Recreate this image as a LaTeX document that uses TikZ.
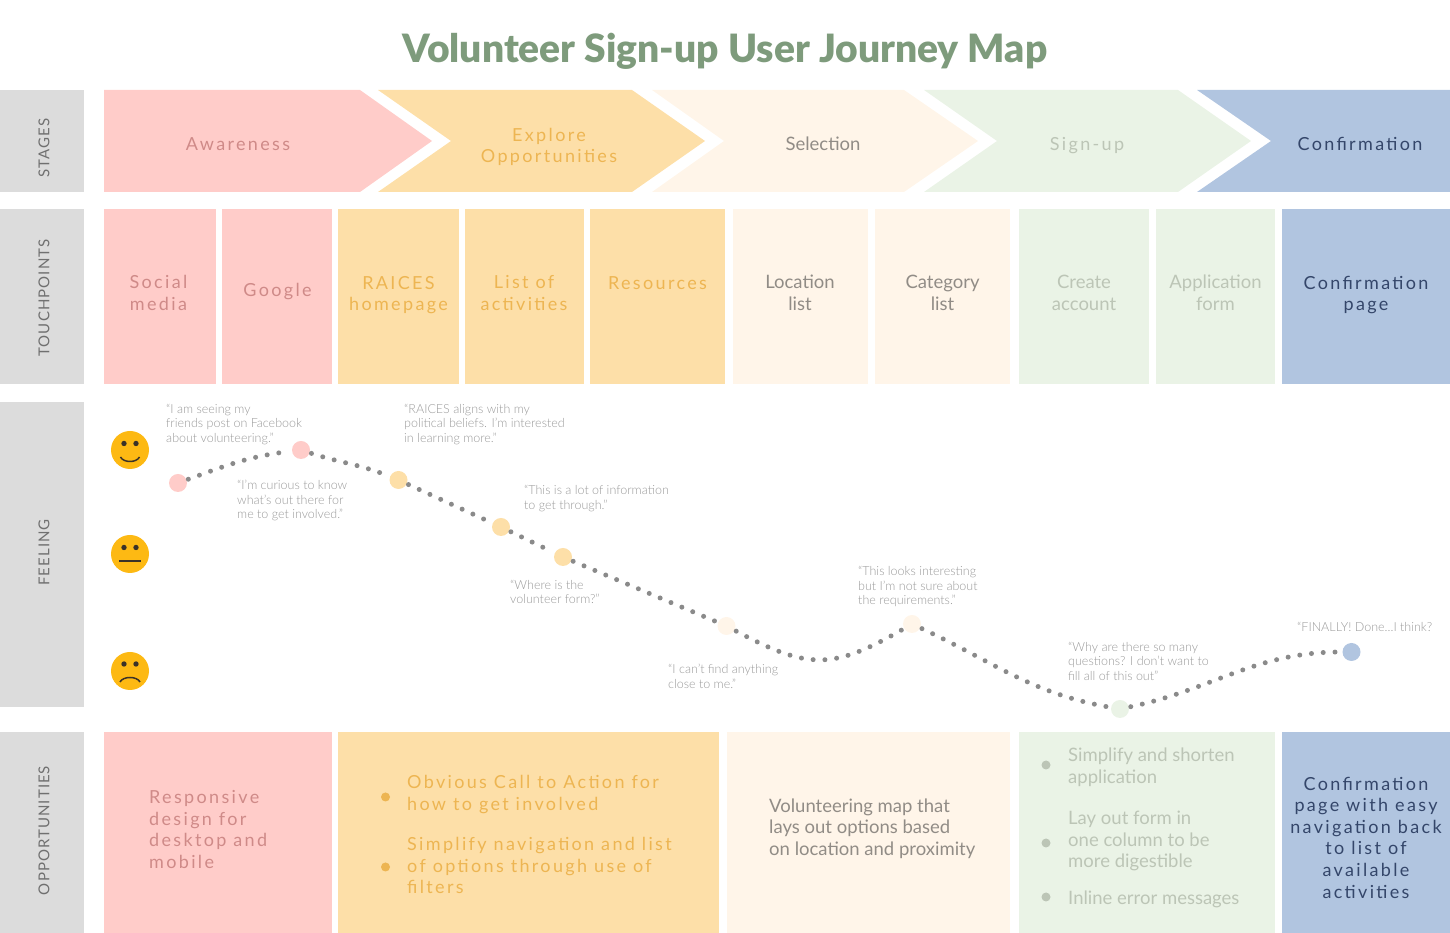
\documentclass[tikz,border=0pt]{standalone}
\usepackage{fontspec}
\setmainfont{Lato}[UprightFont=* Light]
\newfontfamily\widefont{Lato}[UprightFont=*, LetterSpace=13]
\newfontfamily\plainfont{Lato}
\newfontfamily\headfont{Lato}[UprightFont=*, LetterSpace=7]
\newfontfamily\titlefont{Lato}[UprightFont=* Black]

\definecolor{pinkfill}{HTML}{FFCCC9}
\definecolor{orangefill}{HTML}{FDDFA8}
\definecolor{creamfill}{HTML}{FFF5E9}
\definecolor{greenfill}{HTML}{EAF3E6}
\definecolor{bluefill}{HTML}{B1C5E0}
\definecolor{pinktext}{HTML}{CF8A88}
\definecolor{orangetext}{HTML}{EDB552}
\definecolor{creamtext}{HTML}{918C86}
\definecolor{greentext}{HTML}{BCC5B6}
\definecolor{bluetext}{HTML}{34466A}
\definecolor{headgray}{HTML}{DCDCDC}
\definecolor{headtext}{HTML}{707070}
\definecolor{quotetext}{HTML}{9A9A9A}
\definecolor{dotgray}{HTML}{8A8A8A}
\definecolor{facefill}{HTML}{FDB913}
\definecolor{facedark}{HTML}{3A3228}
\definecolor{titlegreen}{HTML}{7E9B7C}

\begin{document}
\begin{tikzpicture}[
    x=1pt, y=1pt,
    cell/.style={inner sep=0, outer sep=0},
    head/.style={cell, fill=headgray, minimum width=84},
    headlbl/.style={font=\headfont\fontsize{15}{17}\selectfont, text=headtext, rotate=90},
    touch/.style={cell, minimum height=175},
    opp/.style={cell, minimum height=201},
    lbl/.style={font=\plainfont\fontsize{18.5}{21.6}\selectfont, align=center},
    widelbl/.style={font=\widefont\fontsize{18}{21.6}\selectfont, align=center},
    leftlbl/.style={anchor=west, align=left, inner sep=0},
    quote/.style={font=\fontsize{12.5}{14.5}\selectfont, text=quotetext, anchor=west, align=left, inner sep=0},
    point/.style={circle, inner sep=0, outer sep=2, minimum size=18},
    bullet/.style={circle, inner sep=0, minimum size=9},
    face/.style={circle, fill=facefill, inner sep=0, minimum size=38},
    eye/.style={facedark},
    mouth/.style={facedark, line width=1.5},
    dotline/.style={dotgray, line width=5, line cap=round, dash pattern=on 0pt off 11.8pt},
]
\useasboundingbox (0,0) rectangle (1450,933);

\node[font=\titlefont\fontsize{39}{42}\selectfont, text=titlegreen] (title) at (725,882) {Volunteer Sign-up User Journey Map};

% row heads
\node[head, minimum height=102] (stages)   at (42,792)   {};
\node[head, minimum height=175] (touches)  at (42,636.5) {};
\node[head, minimum height=305] (feeling)  at (42,378.5) {};
\node[head, minimum height=201] (chances)  at (42,100.5) {};
\node[headlbl] (stageslbl)  at (44,785)   {STAGES};
\node[headlbl] (toucheslbl) at (44,635)   {TOUCHPOINTS};
\node[headlbl] (feelinglbl) at (44,380.5) {FEELING};
\node[headlbl] (chanceslbl) at (44,102.5) {OPPORTUNITIES};

% stages
\fill[pinkfill]   (104,843) -- (360,843) -- (432,792) -- (360,741) -- (104,741) -- cycle;
\fill[orangefill] (378,843) -- (632,843) -- (705,792) -- (632,741) -- (378,741) -- (451,792) -- cycle;
\fill[creamfill]  (652,843) -- (904,843) -- (978,792) -- (904,741) -- (652,741) -- (724,792) -- cycle;
\fill[greenfill]  (924,843) -- (1178,843) -- (1251,792) -- (1178,741) -- (924,741) -- (997,792) -- cycle;
\fill[bluefill]   (1197,843) -- (1450,843) -- (1450,741) -- (1197,741) -- (1271,792) -- cycle;
\node[widelbl, text=pinktext]   (aware)   at (238,789)  {Awareness};
\node[widelbl, text=orangetext] (explore) at (549,786)  {Explore\\Opportunities};
\node[lbl, text=creamtext]      (select)  at (823,789)  {Selection};
\node[widelbl, text=greentext]  (signup)  at (1087,787) {Sign-up};
\node[widelbl, text=bluetext]   (confirm) at (1360,789) {Confirmation};

% touchpoints
\node[touch, fill=pinkfill,   minimum width=111.5] (social)   at (159.75,636.5) {};
\node[touch, fill=pinkfill,   minimum width=110]   (google)   at (276.5,636.5)  {};
\node[touch, fill=orangefill, minimum width=121]   (raices)   at (398.5,636.5)  {};
\node[touch, fill=orangefill, minimum width=119]   (activity) at (524.5,636.5)  {};
\node[touch, fill=orangefill, minimum width=135]   (resource) at (657.5,636.5)  {};
\node[touch, fill=creamfill,  minimum width=135]   (location) at (800.5,636.5)  {};
\node[touch, fill=creamfill,  minimum width=135]   (category) at (942.5,636.5)  {};
\node[touch, fill=greenfill,  minimum width=130]   (account)  at (1084,636.5)   {};
\node[touch, fill=greenfill,  minimum width=119]   (appform)  at (1215.5,636.5) {};
\node[touch, fill=bluefill,   minimum width=168]   (confpage) at (1366,636.5)   {};
\node[widelbl, text=pinktext]   (sociallbl)   at (158.5,640)  {Social\\media};
\node[widelbl, text=pinktext]   (googlelbl)   at (277.5,641)  {Google};
\node[widelbl, text=orangetext] (raiceslbl)   at (398.5,638)  {RAICES\\homepage};
\node[widelbl, text=orangetext] (activitylbl) at (524,640)    {List of\\activities};
\node[widelbl, text=orangetext] (resourcelbl) at (657.5,650)  {Resources};
\node[lbl, text=creamtext]      (locationlbl) at (800,640)    {Location\\list};
\node[lbl, text=creamtext]      (categorylbl) at (942.5,640)  {Category\\list};
\node[lbl, text=greentext]      (accountlbl)  at (1084,640)   {Create\\account};
\node[lbl, text=greentext]      (appformlbl)  at (1215.5,640) {Application\\form};
\node[widelbl, text=bluetext]   (confpagelbl) at (1366,638)   {Confirmation\\page};

% faces
\node[face] (happy)   at (130,483) {};
\node[face] (neutral) at (130,379) {};
\node[face] (sad)     at (130,262) {};
\fill[eye] ([shift={(-6,6.5)}]happy.center) circle (2.7) ([shift={(6,6.5)}]happy.center) circle (2.7);
\fill[eye] ([shift={(-6,6.5)}]neutral.center) circle (2.7) ([shift={(6,6.5)}]neutral.center) circle (2.7);
\fill[eye] ([shift={(-6,7)}]sad.center) circle (2.7) ([shift={(6,7)}]sad.center) circle (2.7);
\draw[mouth] ([shift={(-9.5,-7)}]happy.center) .. controls +(3,-6) and +(-3,-6) .. ([shift={(9.5,-7)}]happy.center);
\draw[mouth] ([shift={(-11,-7)}]neutral.center) -- ([shift={(11,-7)}]neutral.center);
\draw[mouth] ([shift={(-10,-11)}]sad.center) .. controls +(3,6) and +(-3,6) .. ([shift={(10,-11)}]sad.center);

% feeling curve
\node[point, fill=pinkfill]   (feelsocial) at (178,450)   {};
\node[point, fill=pinkfill]   (feelgoogle) at (301,483)   {};
\node[point, fill=orangefill] (feelraices) at (398.5,453) {};
\node[point, fill=orangefill] (feellist)   at (501,406)   {};
\node[point, fill=orangefill] (feelres)    at (563,376)   {};
\node[point, fill=creamfill]  (feelloc)    at (726.5,307) {};
\node[point, fill=creamfill]  (feelcat)    at (912,309)   {};
\node[point, fill=greenfill]  (feelform)   at (1120,224)  {};
\node[point, fill=bluefill]   (feelconf)   at (1351.5,281) {};
\draw[dotline] (feelsocial) to[out=20, in=187] (feelgoogle);
\draw[dotline] (feelgoogle) to[out=-18, in=158] (feelraices);
\draw[dotline] (feelraices) -- (feellist);
\draw[dotline] (feellist) -- (feelres);
\draw[dotline] (feelres) -- (feelloc);
\draw[dotline] (feelloc) to[out=-28, in=210, looseness=1.25] (feelcat);
\draw[dotline] (feelcat) to[out=-25, in=170] (feelform);
\draw[dotline] (feelform) to[out=12, in=180] (feelconf);

% quotes
\node[quote] (quotesocial) at (166,508.5) {“I am seeing my\\friends post on Facebook\\about volunteering.”};
\node[quote] (quotegoogle) at (237,432.5) {“I’m curious to know\\what’s out there for\\me to get involved.”};
\node[quote] (quoteraices) at (404,508.5) {“RAICES aligns with my\\political beliefs. I’m interested\\in learning more.”};
\node[quote] (quotelist)   at (524,434.5) {“This is a lot of information\\to get through.”};
\node[quote] (quoteres)    at (510,341)   {“Where is the\\volunteer form?”};
\node[quote] (quoteloc)    at (668,256.5) {“I can’t find anything\\close to me.”};
\node[quote] (quotecat)    at (858,346.5) {“This looks interesting\\but I’m not sure about\\the requirements.”};
\node[quote] (quoteform)   at (1068,272) {“Why are there so many\\questions? I don’t want to\\fill all of this out”};
\node[quote] (quoteconf)   at (1297,306) {“FINALLY! Done...I think?};

% opportunities
\node[opp, fill=pinkfill,   minimum width=227.5] (opppink)   at (217.75,100.5) {};
\node[opp, fill=orangefill, minimum width=381]   (opporange) at (528.5,100.5)  {};
\node[opp, fill=creamfill,  minimum width=283]   (oppcream)  at (868.5,100.5)  {};
\node[opp, fill=greenfill,  minimum width=256]   (oppgreen)  at (1147,100.5)   {};
\node[opp, fill=bluefill,   minimum width=168]   (oppblue)   at (1366,100.5)   {};

\node[widelbl, leftlbl, text=pinktext] (opppinklbl) at (149,103.5) {Responsive\\design for\\desktop and\\mobile};

\node[bullet, fill=orangetext] (orangedotA) at (385.5,136) {};
\node[bullet, fill=orangetext] (orangedotB) at (385.5,66)  {};
\node[widelbl, leftlbl, text=orangetext] (orangelblA) at (407,138.5) {Obvious Call to Action for\\how to get involved};
\node[widelbl, leftlbl, text=orangetext] (orangelblB) at (407,67.5)  {Simplify navigation and list\\of options through use of\\filters};

\node[lbl, leftlbl, text=creamtext] (oppcreamlbl) at (769,104.5) {Volunteering map that\\lays out options based\\on location and proximity};

\node[bullet, fill=greentext] (greendotA) at (1046,168) {};
\node[bullet, fill=greentext] (greendotB) at (1046,90)  {};
\node[bullet, fill=greentext] (greendotC) at (1046,36)  {};
\node[lbl, leftlbl, text=greentext] (greenlblA) at (1068,166) {Simplify and shorten\\application};
\node[lbl, leftlbl, text=greentext] (greenlblB) at (1068,92)  {Lay out form in\\one column to be\\more digestible};
\node[lbl, leftlbl, text=greentext] (greenlblC) at (1068,34)  {Inline error messages};

\node[widelbl, text=bluetext] (oppbluelbl) at (1366,95.5) {Confirmation\\page with easy\\navigation back\\to list of\\available\\activities};

\end{tikzpicture}
\end{document}
